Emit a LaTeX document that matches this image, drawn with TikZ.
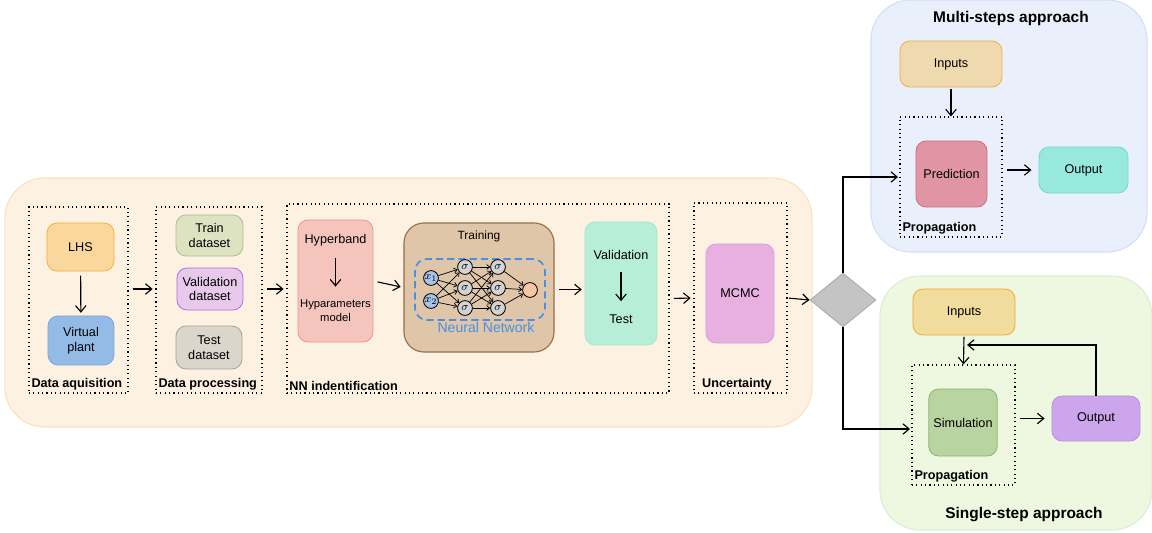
\documentclass[tikz,border=0pt]{standalone}
\usepackage{fontspec}
\setmainfont{Liberation Sans}
\usetikzlibrary{positioning,shapes.geometric,arrows.meta}

\definecolor{bgFill}{HTML}{FDF2E1}\definecolor{bgDraw}{HTML}{F8E3C0}
\definecolor{lhsFill}{HTML}{FAD79C}\definecolor{lhsDraw}{HTML}{F3B13E}
\definecolor{plantFill}{HTML}{94BBE5}\definecolor{plantDraw}{HTML}{7DA7DD}
\definecolor{trainFill}{HTML}{DDE2C1}\definecolor{trainDraw}{HTML}{A9C18C}
\definecolor{validFill}{HTML}{E8C9EC}\definecolor{validDraw}{HTML}{B46EE8}
\definecolor{testFill}{HTML}{DCD5CB}\definecolor{testDraw}{HTML}{A6A39C}
\definecolor{hyperFill}{HTML}{F5C4BD}\definecolor{hyperDraw}{HTML}{EF9595}
\definecolor{trngFill}{HTML}{DFC6A9}\definecolor{trngDraw}{HTML}{9C6E45}
\definecolor{nnBlue}{HTML}{4A90E2}
\definecolor{inFill}{HTML}{A9C3EB}\definecolor{sigFill}{HTML}{D3D3D3}\definecolor{outFill}{HTML}{F6C7A2}
\definecolor{vtFill}{HTML}{B7EED7}\definecolor{vtDraw}{HTML}{A6E8CC}
\definecolor{mcmcFill}{HTML}{E8B0E0}\definecolor{mcmcDraw}{HTML}{DA9EE3}
\definecolor{diaFill}{HTML}{C4C4C4}\definecolor{diaDraw}{HTML}{ABABAB}
\definecolor{multiFill}{HTML}{E9F0FC}\definecolor{multiDraw}{HTML}{D2E0F6}
\definecolor{minpFill}{HTML}{EFD9AE}\definecolor{minpDraw}{HTML}{F2B040}
\definecolor{predFill}{HTML}{E094A4}\definecolor{predDraw}{HTML}{D2707F}
\definecolor{moutFill}{HTML}{98E9DD}\definecolor{moutDraw}{HTML}{72DAC8}
\definecolor{singleFill}{HTML}{EEF8E1}\definecolor{singleDraw}{HTML}{DCEFD0}
\definecolor{sinpFill}{HTML}{F0DC9D}\definecolor{sinpDraw}{HTML}{F0AA30}
\definecolor{simFill}{HTML}{B9D4A0}\definecolor{simDraw}{HTML}{8CB36E}
\definecolor{soutFill}{HTML}{CDA5ED}\definecolor{soutDraw}{HTML}{B992E3}

\tikzset{
  box/.style={draw, rounded corners=0.25cm, align=center, line width=0.6pt,
    font=\fontsize{9}{10.5}\selectfont},
  group/.style={draw, line width=0.8pt, dash pattern=on 0.8pt off 2.3pt},
  glabel/.style={anchor=south west, font=\bfseries\fontsize{9}{10}\selectfont, inner sep=2pt},
  area/.style={draw, rounded corners=1cm, line width=0.8pt},
  arr/.style={-{Straight Barb[length=4.5pt,width=7.5pt]}, line width=0.8pt,
    shorten <=3pt, shorten >=2pt},
  nnarr/.style={-{Straight Barb[length=2.2pt,width=3.5pt]}, line width=0.5pt},
  neuron/.style={circle, draw, line width=0.6pt, minimum size=0.37cm, inner sep=0pt,
    font=\fontsize{8}{8}\selectfont},
}

\begin{document}
\begin{tikzpicture}[x=0.025cm, y=-0.025cm]
\useasboundingbox (0,0) rectangle (1152,533);

% background areas
\node[area, draw=bgDraw, fill=bgFill, minimum width=20.175cm, minimum height=6.225cm] (bg) at (408.5,302.5) {};
\node[area, draw=multiDraw, fill=multiFill, minimum width=6.9cm, minimum height=6.3cm] (multi) at (1009,126) {};
\node[area, draw=singleDraw, fill=singleFill, minimum width=6.8cm, minimum height=6.35cm] (single) at (1016,403) {};

% data aquisition
\node[group, minimum width=2.475cm, minimum height=4.65cm] (acq) at (78.5,300) {};
\node[glabel] (acqlbl) at (acq.south west) {Data aquisition};
\node[box, draw=lhsDraw, fill=lhsFill, minimum width=1.675cm, minimum height=1.2cm] (lhs) at (80.5,247) {LHS};
\node[box, draw=plantDraw, fill=plantFill, minimum width=1.65cm, minimum height=1.225cm] (plant) at (81,340.5) {Virtual\\plant};
\draw[arr] (lhs) -- (plant);

% data processing
\node[group, minimum width=2.65cm, minimum height=4.65cm] (proc) at (209,300) {};
\node[glabel] (proclbl) at (proc.south west) {Data processing};
\node[box, draw=trainDraw, fill=trainFill, minimum width=1.675cm, minimum height=1.025cm] (train) at (209.5,235.5) {Train\\dataset};
\node[box, draw=validDraw, fill=validFill, minimum width=1.65cm, minimum height=1.05cm] (valid) at (210,289) {Validation\\dataset};
\node[box, draw=testDraw, fill=testFill, minimum width=1.65cm, minimum height=1.075cm] (test) at (209,347.5) {Test\\dataset};

% NN identification
\node[group, minimum width=9.55cm, minimum height=4.725cm] (nnid) at (478,298.5) {};
\node[glabel] (nnidlbl) at (nnid.south west) {NN indentification};
\node[box, draw=hyperDraw, fill=hyperFill, minimum width=1.875cm, minimum height=3.05cm] (hyper) at (335.5,281) {};
\node[font=\fontsize{9}{10.5}\selectfont] (hb) at (335.5,240) {Hyperband};
\node[font=\fontsize{8}{10}\selectfont, align=center] (hm) at (335.5,311) {Hyparameters\\model};
\draw[arr, shorten <=5pt, shorten >=6pt] (hb) -- (hm);
\node[box, draw=trngDraw, fill=trngFill, rounded corners=0.5cm, line width=0.8pt, minimum width=3.75cm, minimum height=3.225cm] (trng) at (479,287.5) {};
\node[font=\fontsize{8.5}{10}\selectfont] (trnglbl) at (479,236) {Training};
\node[draw=nnBlue, line width=1.2pt, dash pattern=on 5pt off 3pt, rounded corners=0.3cm, minimum width=3.25cm, minimum height=1.525cm] (nn) at (480,289.5) {};
\node[text=nnBlue, font=\fontsize{10}{10}\selectfont] (nnlbl) at (486,327) {Neural Network};
\foreach \i/\y in {1/278,2/301}
  \node[neuron, fill=inFill] (i\i) at (431,\y) {$x_\i$};
\foreach \i/\y in {1/267,2/288,3/308} {
  \node[neuron, fill=sigFill] (a\i) at (465,\y) {$\sigma$};
  \node[neuron, fill=sigFill] (b\i) at (498,\y) {$\sigma$};
}
\node[neuron, fill=outFill] (o) at (530,290) {};
\foreach \i in {1,2}
  \foreach \j in {1,2,3}
    \draw[nnarr] (i\i) -- (a\j);
\foreach \i in {1,2,3} {
  \foreach \j in {1,2,3}
    \draw[nnarr] (a\i) -- (b\j);
  \draw[nnarr] (b\i) -- (o);
}
\node[box, draw=vtDraw, fill=vtFill, minimum width=1.8cm, minimum height=3.075cm] (vt) at (621,283.5) {};
\node[font=\fontsize{9}{10.5}\selectfont] (vtv) at (621,255) {Validation};
\node[font=\fontsize{9}{10.5}\selectfont] (vtt) at (621,319) {Test};
\draw[arr, shorten <=5pt, shorten >=6pt] (vtv) -- (vtt);

% uncertainty
\node[group, minimum width=2.325cm, minimum height=4.75cm] (unc) at (740.5,298) {};
\node[glabel] (unclbl) at ([xshift=4pt]unc.south west) {Uncertainty};
\node[box, draw=mcmcDraw, fill=mcmcFill, minimum width=1.7cm, minimum height=2.475cm] (mcmc) at (740,293.5) {MCMC};

% decision
\node[diamond, draw=diaDraw, fill=diaFill, line width=0.6pt, minimum width=1.65cm, minimum height=1.35cm, inner sep=0pt] (dia) at (843,300) {};

% multi-steps approach
\node[font=\bfseries\fontsize{11}{12}\selectfont] (multilbl) at (1011,18) {Multi-steps approach};
\node[box, draw=minpDraw, fill=minpFill, minimum width=2.55cm, minimum height=1.15cm] (minp) at (951,64) {Inputs};
\node[group, minimum width=2.55cm, minimum height=3cm] (mprop) at (951,177) {};
\node[glabel] (mproplbl) at (mprop.south west) {Propagation};
\node[box, draw=predDraw, fill=predFill, minimum width=1.775cm, minimum height=1.65cm] (pred) at (951.5,174) {Prediction};
\node[box, draw=moutDraw, fill=moutFill, minimum width=2.225cm, minimum height=1.15cm] (mout) at (1083.5,170) {Output};

% single-step approach
\node[font=\bfseries\fontsize{11}{12}\selectfont] (singlelbl) at (1024,515) {Single-step approach};
\node[box, draw=sinpDraw, fill=sinpFill, minimum width=2.55cm, minimum height=1.15cm] (sinp) at (964,312) {Inputs};
\node[group, minimum width=2.575cm, minimum height=3cm] (sprop) at (963.5,425) {};
\node[glabel] (sproplbl) at (sprop.south west) {Propagation};
\node[box, draw=simDraw, fill=simFill, minimum width=1.7cm, minimum height=1.675cm] (sim) at (963,422.5) {Simulation};
\node[box, draw=soutDraw, fill=soutFill, minimum width=2.2cm, minimum height=1.125cm] (sout) at (1096,418.5) {Output};
\coordinate (fb) at (967,345);

% connectors
\draw[arr] (acq.east |- valid.west) -- (proc.west |- valid.west);
\draw[arr] (proc.east |- valid.east) -- (nnid.west |- valid.east);
\draw[arr] (hyper.east) -- (trng.west);
\draw[arr] (trng.east |- nn.east) -- (vt.west |- nn.east);
\draw[arr] (nnid.east) -- (unc.west);
\draw[arr, shorten <=1pt, shorten >=0pt] (unc.east) -- (dia.west);
\draw[arr, shorten <=0pt, shorten >=1pt] (dia.north) |- (mprop.west);
\draw[arr, shorten <=0pt, shorten >=1pt] (dia.south) |- ([yshift=-4*0.025cm]sprop.west);
\draw[arr, shorten <=1pt, shorten >=0pt] (minp.south) -- (mprop.north);
\draw[arr, shorten >=5pt] (mprop.east |- mout.west) -- (mout.west);
\draw[arr, shorten <=1pt, shorten >=0pt] (sinp.south) -- (sprop.north);
\draw[arr, shorten >=5pt] (sprop.east |- sout.west) -- (sout.west);
\draw[arr, shorten <=0pt, shorten >=0pt] (sout.north) |- (fb);
\end{tikzpicture}
\end{document}
